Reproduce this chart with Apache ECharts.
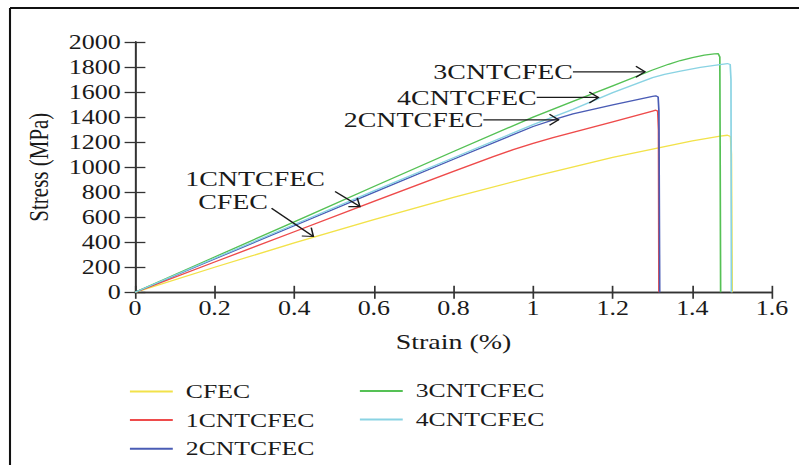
<!DOCTYPE html>
<html><head><meta charset="utf-8">
<script src="https://cdn.jsdelivr.net/npm/echarts@6/dist/echarts.min.js"></script>
<style>
html,body{margin:0;padding:0;background:#fff;overflow:hidden;width:799px;height:465px;}
#main{width:615px;height:465px;transform:scaleX(1.2992);transform-origin:0 0;}
</style></head><body><div id="main"></div>
<script>
// ---- data (strain %, stress MPa) ----
const xTicks = [0, 0.2, 0.4, 0.6, 0.8, 1.0, 1.2, 1.4, 1.6];
const yTicks = [0, 200, 400, 600, 800, 1000, 1200, 1400, 1600, 1800, 2000];
const seriesNames = ['CFEC', '1CNTCFEC', '2CNTCFEC', '3CNTCFEC', '4CNTCFEC'];
const cfec = [[0,0],[0.2,200],[0.4,395],[0.6,580],[0.8,758],[1.0,925],[1.2,1078],[1.4,1210],[1.47,1248],[1.488,1255],[1.496,1245],[1.498,1100],[1.5,0]];
const cnt1 = [[0,0],[0.2,242],[0.4,484],[0.6,726],[0.8,966],[0.9,1084],[0.95,1140],[1.0,1190],[1.05,1236],[1.1,1278],[1.2,1362],[1.3,1448],[1.308,1455],[1.313,1448],[1.315,1300],[1.316,0]];
const cnt2 = [[0,0],[0.2,266],[0.4,532],[0.6,798],[0.8,1063],[1.0,1325],[1.06,1388],[1.1,1425],[1.2,1497],[1.3,1565],[1.308,1570],[1.314,1560],[1.316,1450],[1.318,0]];
const cnt3 = [[0,0],[0.2,282],[0.4,563],[0.6,845],[0.8,1125],[1.0,1400],[1.1,1525],[1.2,1650],[1.3,1776],[1.34,1822],[1.37,1852],[1.4,1876],[1.43,1895],[1.455,1905],[1.465,1906],[1.469,1880],[1.471,0]];
const cnt4 = [[0,0],[0.2,272],[0.4,542],[0.6,810],[0.8,1075],[1.0,1340],[1.1,1462],[1.2,1595],[1.3,1716],[1.33,1742],[1.37,1768],[1.42,1798],[1.46,1816],[1.488,1828],[1.495,1820],[1.497,1700],[1.498,0]];
// annotations: label, text anchor (right-middle), arrow tail, arrow tip
const annoNames = ['3CNTCFEC', '4CNTCFEC', '2CNTCFEC', '1CNTCFEC', 'CFEC'];
const annoText = [[1.100,1762],[1.009,1557],[0.875,1378],[0.477,904],[0.334,725]];
const annoTail = [[1.100,1762],[1.009,1557],[0.875,1378],[0.5025,805],[0.343,672]];
const annoTip  = [[1.281,1762],[1.164,1557],[1.064,1378],[0.565,685],[0.448,446]];

const colors = ['#F2E24A', '#EE4B4B', '#4A5CB5', '#55C155', '#8AD3E3'];
const FONT = '"Liberation Serif", "Times New Roman", serif';
const chart = echarts.init(document.getElementById('main'), null, {renderer: 'svg'});

const lineData = [cfec, cnt1, cnt2, cnt3, cnt4];
const series = lineData.map((d, i) => ({
  name: seriesNames[i], type: 'line', data: d, showSymbol: false, symbol: 'none',
  lineStyle: {color: colors[i], width: 1.3, join: 'round'}, itemStyle: {color: colors[i]},
  xAxisIndex: 0, yAxisIndex: 0, z: 2 + i, animation: false
}));

const annoData = annoNames.map((n, i) => [annoTail[i][0], annoTail[i][1], annoTip[i][0], annoTip[i][1], annoText[i][0], annoText[i][1]]);
series.push({
  type: 'custom', name: 'annotations', xAxisIndex: 0, yAxisIndex: 0, z: 20, silent: true, clip: false,
  data: annoData,
  encode: {x: [0, 2], y: [1, 3]},
  renderItem: function (params, api) {
    const tail = api.coord([api.value(0), api.value(1)]);
    const tip = api.coord([api.value(2), api.value(3)]);
    const txt = api.coord([api.value(4), api.value(5)]);
    const dx = tip[0] - tail[0], dy = tip[1] - tail[1];
    const len = Math.hypot(dx, dy), ux = dx / len, uy = dy / len;
    const hl = 7, hw = 5.5;
    const bx = tip[0] - ux * hl, by = tip[1] - uy * hl;
    const p1 = [bx - uy * hw, by + ux * hw], p2 = [bx + uy * hw, by - ux * hw];
    return {type: 'group', children: [
      {type: 'line', shape: {x1: tail[0], y1: tail[1], x2: tip[0], y2: tip[1]}, style: {stroke: '#1a1a1a', lineWidth: 1.2}},
      {type: 'polyline', shape: {points: [p1, tip, p2]}, style: {stroke: '#1a1a1a', lineWidth: 1.2, fill: null}},
      {type: 'text', x: txt[0], y: txt[1], style: {text: annoNames[params.dataIndex], align: 'right', verticalAlign: 'middle', fontSize: 21.5, fontFamily: FONT, fill: '#1a1a1a'}}
    ]};
  }
});

const axisLine = {show: true, lineStyle: {color: '#333', width: 1.3}};
const xBase = {type: 'value', min: xTicks[0], max: xTicks[xTicks.length - 1], interval: xTicks[1] - xTicks[0], splitLine: {show: false}, axisLine: axisLine};
const yBase = {type: 'value', min: yTicks[0], max: yTicks[yTicks.length - 1], interval: yTicks[1] - yTicks[0], splitLine: {show: false}, axisLine: axisLine};

const legendText = {fontSize: 19.8, lineHeight: 19, fontFamily: FONT, color: '#1a1a1a', padding: [0, 0, 0, 5]};
chart.setOption({
  animation: false,
  backgroundColor: '#fff',
  grid: {left: 103.9, right: 20.8, top: 42, bottom: 172.7, containLabel: false},
  xAxis: [
    Object.assign({}, xBase, {position: 'bottom', name: 'Strain (%)', nameLocation: 'middle', nameGap: 38,
      nameTextStyle: {fontSize: 21.5, fontFamily: FONT, color: '#1a1a1a'},
      axisTick: {inside: true, length: 6.5, lineStyle: {color: '#333', width: 1.3}},
      axisLabel: {fontSize: 20, fontFamily: FONT, color: '#1a1a1a', margin: 6,
        formatter: v => String(Math.round(v * 10) / 10)}}),
    Object.assign({}, xBase, {position: 'top', axisTick: {inside: true, length: 6.5, lineStyle: {color: '#333', width: 1.3}}, axisLabel: {show: false}})
  ],
  yAxis: [
    Object.assign({}, yBase, {position: 'left', name: 'Stress (MPa)', nameLocation: 'middle', nameGap: 64, nameRotate: 90,
      nameTextStyle: {fontSize: 21, fontFamily: FONT, color: '#1a1a1a'},
      axisTick: {inside: true, length: 8, lineStyle: {color: '#333', width: 1.3}},
      axisLabel: {fontSize: 20, fontFamily: FONT, color: '#1a1a1a', margin: 11, formatter: v => String(v)}}),
    Object.assign({}, yBase, {position: 'right', axisTick: {inside: true, length: 8, lineStyle: {color: '#333', width: 1.3}}, axisLabel: {show: false}})
  ],
  legend: [
    {data: seriesNames.slice(0, 3), orient: 'vertical', left: 100, top: 381.5, height: 84, padding: 0, itemWidth: 33, itemHeight: 2, icon: 'rect', itemGap: 8.6,
      textStyle: legendText},
    {data: seriesNames.slice(3), orient: 'vertical', left: 277, top: 381, height: 84, padding: 0, itemWidth: 33, itemHeight: 2, icon: 'rect', itemGap: 8.6,
      textStyle: legendText}
  ],
  graphic: [
    {type: 'line', shape: {x1: 7.7, y1: 8, x2: 615, y2: 8}, style: {stroke: '#111', lineWidth: 2}, silent: true},
    {type: 'line', shape: {x1: 7.7, y1: 8, x2: 7.7, y2: 465}, style: {stroke: '#111', lineWidth: 1.6}, silent: true}
  ],
  series: series
});
</script></body></html>
